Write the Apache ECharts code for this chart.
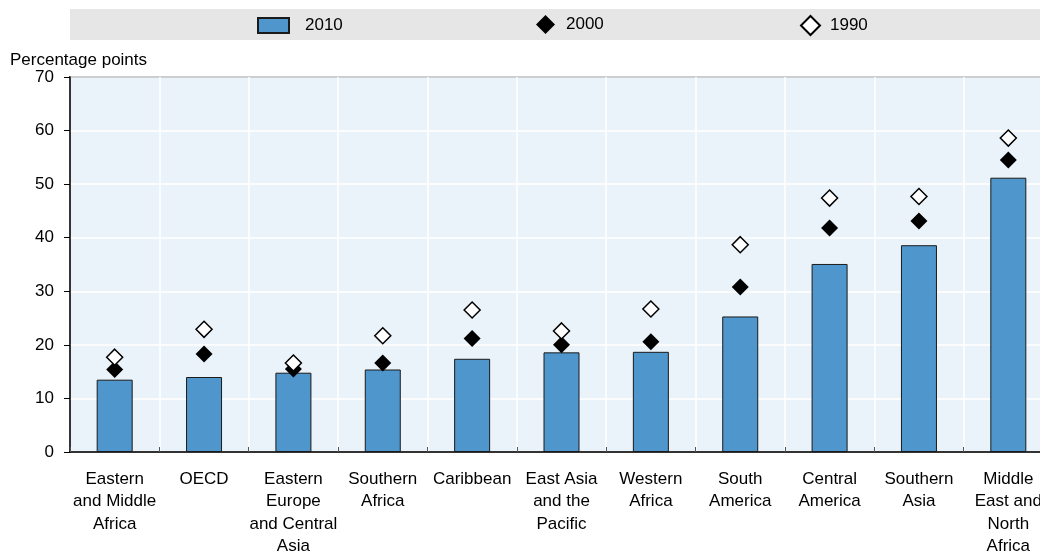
<!DOCTYPE html>
<html><head><meta charset="utf-8">
<script src="https://cdn.jsdelivr.net/npm/echarts@6/dist/echarts.min.js"></script>
<style>html,body{margin:0;padding:0;background:#fff;overflow:hidden;width:1040px;height:558px}#c{width:1053px;height:558px}</style>
</head><body><div id="c"></div>
<script>
const categories = ["Eastern\nand Middle\nAfrica","OECD","Eastern\nEurope\nand Central\nAsia","Southern\nAfrica","Caribbean","East Asia\nand the\nPacific","Western\nAfrica","South\nAmerica","Central\nAmerica","Southern\nAsia","Middle\nEast and\nNorth\nAfrica"];
const values2010 = [13.5, 14.0, 14.8, 15.4, 17.4, 18.6, 18.7, 25.3, 35.1, 38.6, 51.2];
const values2000 = [15.4, 18.3, 15.5, 16.6, 21.2, 20.0, 20.6, 30.8, 41.8, 43.1, 54.5];
const values1990 = [17.7, 22.9, 16.6, 21.7, 26.5, 22.6, 26.7, 38.7, 47.4, 47.7, 58.6];
const yMin = 0, yMax = 70, yStep = 10;

const FONT = "'Liberation Sans', Arial, sans-serif";
const chart = echarts.init(document.getElementById('c'), null, {renderer: 'canvas'});
const legendText = {fontFamily: FONT, fontSize: 17, color: '#000'};
chart.setOption({
  animation: false,
  backgroundColor: '#fff',
  textStyle: {fontFamily: FONT},
  graphic: [{
    type: 'rect', left: 70, top: 9, z: -10,
    shape: {width: 983, height: 31},
    style: {fill: '#e6e6e6'}
  }],
  title: {
    text: 'Percentage points', left: 5, top: 47,
    textStyle: {fontFamily: FONT, fontSize: 17, fontWeight: 'normal', color: '#000'}
  },
  legend: [
    {data: [{name: '2010', icon: 'rect'}], left: 257, top: 17, padding: 0, itemWidth: 31, itemHeight: 15,
     textStyle: Object.assign({padding: [1, 0, 0, 11]}, legendText)},
    {data: ['2000'], left: 536, top: 15, padding: 0, itemWidth: 19, itemHeight: 19,
     textStyle: Object.assign({padding: [2, 0, 0, 6]}, legendText)},
    {data: ['1990'], left: 800, top: 15, padding: 0, itemWidth: 19, itemHeight: 19,
     textStyle: Object.assign({padding: [2, 0, 0, 5]}, legendText)}
  ],
  grid: {
    left: 70, top: 77, right: 0, height: 378,
    show: true, backgroundColor: '#ebf3fa', borderColor: '#000', borderWidth: 1.5,
    containLabel: false
  },
  xAxis: {
    type: 'category', data: categories, boundaryGap: true,
    axisLine: {lineStyle: {color: '#000', width: 1.5}},
    axisTick: {show: true, inside: true, length: 5, alignWithLabel: false, lineStyle: {color: '#555'}},
    splitLine: {show: true, lineStyle: {color: '#fff', width: 1.5}},
    axisLabel: {interval: 0, fontFamily: FONT, fontSize: 17, color: '#000', lineHeight: 22.5, margin: 16, align: 'center'}
  },
  yAxis: {
    type: 'value', min: yMin, max: yMax, interval: yStep,
    axisLine: {show: true, lineStyle: {color: '#000', width: 1.5}},
    axisTick: {show: true, length: 6, lineStyle: {color: '#000'}},
    splitLine: {show: true, lineStyle: {color: '#fff', width: 1.5}},
    axisLabel: {fontFamily: FONT, fontSize: 17, color: '#000', margin: 16}
  },
  series: [
    {name: '2010', type: 'bar', data: values2010, barWidth: 36,
     itemStyle: {color: '#4e96cb', borderColor: '#1a1a1a', borderWidth: 1}},
    {name: '2000', type: 'scatter', data: values2000, symbol: 'diamond', symbolSize: 17,
     itemStyle: {color: '#000', borderColor: '#000', borderWidth: 0, opacity: 1}, z: 5},
    {name: '1990', type: 'scatter', data: values1990, symbol: 'diamond', symbolSize: 16,
     itemStyle: {color: '#fff', borderColor: '#000', borderWidth: 1.5, opacity: 1}, z: 6}
  ]
});
</script></body></html>
